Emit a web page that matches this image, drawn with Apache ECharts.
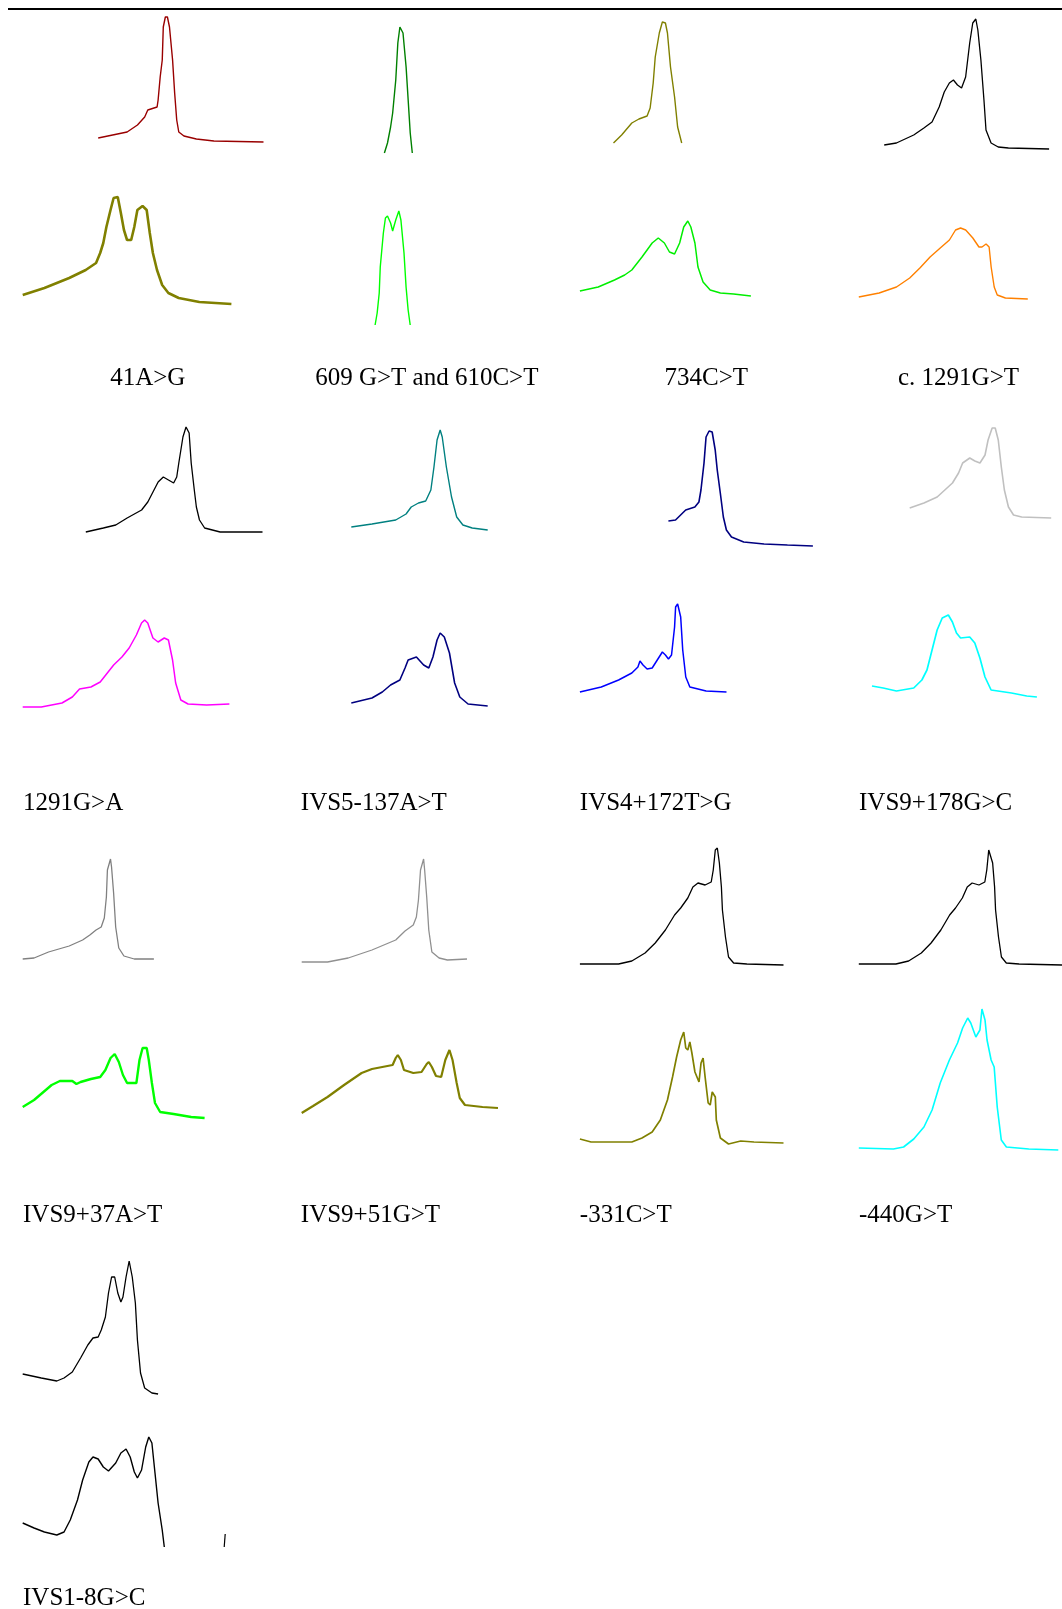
<!DOCTYPE html>
<html>
<head>
<meta charset="utf-8">
<script src="https://cdn.jsdelivr.net/npm/echarts@6/dist/echarts.min.js"></script>
<style>
  html, body { margin: 0; padding: 0; background: #ffffff; }
  #chart { width: 1062px; height: 1609px; }
</style>
</head>
<body>
<div id="chart"></div>
<script>
// Melting-curve profiles: each series is [temperature step, signal] pairs.
// "ref" = upper (reference) trace, "mut" = lower (variant) trace of each panel.

const labels = ['41A>G', '609 G>T and 610C>T', '734C>T', 'c. 1291G>T',
  '1291G>A', 'IVS5-137A>T', 'IVS4+172T>G', 'IVS9+178G>C',
  'IVS9+37A>T', 'IVS9+51G>T', '-331C>T', '-440G>T', 'IVS1-8G>C'];

const ref41AG = [[0,4],[28,10],[38,17],[45,25],[48,32],[57,35],[58,42],[60,65],[62,82],[63,115],[65,125],[67,125],[69,115],[72,82],[74,49],[76,22],[78,10],[83,6],[95,3],[112,1],[160,0]];
const mut41AG = [[0,9],[21,16],[45,26],[61,34],[71,41],[75,51],[78,61],[81,77],[85,94],[88,106],[92,107],[95,91],[98,74],[101,64],[105,64],[108,77],[111,94],[116,98],[120,94],[123,71],[126,51],[130,34],[135,19],[141,11],[151,6],[171,2],[202,0]];

const ref609 = [[0,0],[3,10],[6,26],[8,40],[11,73],[13,110],[15,126],[16,127],[18,120],[21,86],[23,53],[25,20],[27,0]];
const mut609 = [[0,0],[2,12],[4,32],[5,58],[8,92],[10,107],[12,109],[15,102],[17,94],[20,105],[23,114],[25,105],[28,72],[30,38],[32,15],[34,0]];

const ref734 = [[0,0],[8,8],[18,20],[25,24],[33,27],[36,35],[39,60],[41,86],[45,110],[48,121],[51,120],[53,110],[56,76],[60,46],[63,16],[67,0]];
const mut734 = [[0,5],[18,9],[34,16],[44,21],[51,26],[61,39],[71,53],[77,58],[83,53],[88,44],[93,42],[98,53],[102,69],[106,75],[109,69],[113,53],[116,29],[121,14],[128,6],[138,3],[151,2],[168,0]];

const ref1291GT = [[0,4],[12,6],[29,14],[39,21],[47,27],[54,42],[59,57],[64,66],[68,69],[72,64],[76,61],[80,72],[84,106],[87,126],[90,130],[92,119],[95,89],[98,49],[100,19],[105,6],[112,2],[122,1],[162,0]];
const mut1291GT = [[0,2],[20,6],[37,12],[50,21],[60,31],[70,42],[80,51],[89,59],[95,69],[100,71],[105,69],[112,61],[118,52],[121,52],[125,55],[128,52],[130,32],[133,12],[136,4],[144,1],[166,0]];

const ref1291GA = [[0,0],[17,4],[29,7],[40,14],[54,22],[60,30],[65,40],[70,50],[75,55],[80,52],[85,49],[88,55],[90,69],[94,95],[97,105],[100,99],[102,69],[105,42],[107,25],[110,12],[115,4],[130,0],[171,0]];
const mut1291GA = [[0,0],[18,0],[38,4],[48,10],[55,18],[66,20],[75,25],[88,42],[96,50],[103,59],[110,72],[115,84],[118,87],[121,84],[126,69],[131,65],[137,69],[141,67],[145,47],[148,24],[153,7],[160,3],[178,2],[200,3]];

const refIVS5 = [[0,3],[20,6],[43,10],[53,16],[58,23],[65,27],[72,29],[77,40],[80,63],[83,90],[86,100],[88,93],[92,63],[97,33],[102,13],[108,5],[117,2],[132,0]];
const mutIVS5 = [[0,3],[20,8],[30,14],[38,21],[47,26],[52,38],[55,46],[63,49],[70,41],[75,38],[79,49],[83,66],[86,73],[90,69],[95,53],[100,23],[105,9],[113,2],[132,0]];

const refIVS4 = [[0,25],[7,26],[12,31],[17,36],[26,39],[30,44],[32,56],[35,83],[37,109],[40,115],[43,114],[46,96],[48,76],[51,53],[54,29],[57,16],[62,9],[74,4],[94,2],[117,1],[142,0]];
const mutIVS4 = [[0,0],[21,5],[38,12],[51,19],[57,25],[59,31],[62,27],[66,23],[71,24],[76,32],[81,40],[84,37],[87,33],[90,37],[93,65],[94,85],[96,88],[99,75],[101,42],[104,15],[108,5],[124,1],[144,0]];

const refIVS9_178 = [[0,10],[14,15],[27,21],[42,35],[48,45],[52,55],[59,60],[64,57],[69,55],[74,63],[77,78],[81,90],[84,90],[87,78],[90,51],[93,28],[97,11],[102,3],[110,1],[139,0]];
const mutIVS9_178 = [[0,11],[11,9],[24,6],[41,9],[49,17],[54,27],[59,47],[64,67],[69,79],[75,82],[79,75],[83,64],[87,59],[96,60],[101,54],[106,39],[111,20],[117,7],[137,4],[152,1],[162,0]];

const refIVS9_37 = [[0,0],[11,1],[25,7],[45,13],[58,19],[65,24],[71,29],[76,32],[79,41],[81,62],[82,89],[85,100],[86,92],[88,66],[90,32],[93,11],[98,3],[108,0],[127,0]];
const mutIVS9_37 = [[0,11],[11,18],[28,33],[36,37],[48,37],[52,34],[56,36],[66,39],[75,41],[80,48],[85,60],[89,64],[93,56],[97,43],[101,35],[110,35],[113,58],[116,70],[120,70],[122,58],[125,35],[128,15],[133,6],[146,4],[163,1],[176,0]];

const refIVS9_51 = [[0,0],[25,0],[45,4],[68,12],[91,22],[100,31],[108,37],[111,45],[113,62],[115,92],[118,103],[119,92],[121,65],[123,32],[126,10],[133,4],[141,2],[160,3]];
const mutIVS9_51 = [[0,0],[11,7],[25,16],[41,28],[58,40],[68,44],[78,46],[88,48],[91,55],[93,58],[96,53],[99,43],[108,40],[116,41],[121,49],[123,51],[126,46],[130,37],[135,36],[139,53],[143,63],[146,53],[150,30],[153,15],[158,8],[175,6],[190,5]];

const ref331 = [[0,1],[38,1],[51,4],[64,12],[74,22],[84,35],[93,50],[99,57],[106,67],[111,78],[116,82],[123,80],[129,83],[131,95],[133,115],[135,117],[137,102],[139,78],[140,55],[143,28],[146,8],[151,2],[164,1],[200,0]];
const mut331 = [[0,5],[11,2],[31,2],[51,2],[61,6],[71,12],[79,24],[86,44],[91,67],[95,87],[99,104],[102,112],[104,96],[106,94],[108,102],[110,91],[113,72],[117,62],[119,81],[121,86],[123,67],[126,41],[128,39],[130,52],[133,47],[134,24],[138,6],[146,0],[158,3],[171,2],[200,1]];

const ref440 = [[0,1],[38,1],[51,4],[64,12],[74,22],[84,35],[93,50],[99,57],[106,67],[111,78],[116,82],[123,80],[129,83],[131,95],[133,115],[135,117],[137,102],[139,78],[140,55],[143,28],[146,8],[151,2],[164,1],[208,0]];
const mut440 = [[0,2],[34,1],[44,3],[54,11],[64,23],[72,40],[80,67],[89,90],[97,107],[102,122],[107,132],[110,127],[115,113],[119,120],[121,141],[124,130],[126,110],[130,90],[133,83],[136,43],[140,10],[145,3],[167,1],[196,0]];

const refIVS1 = [[0,20],[18,16],[33,13],[40,16],[48,22],[56,36],[63,49],[68,56],[73,57],[76,64],[80,77],[83,101],[86,117],[89,117],[92,101],[95,92],[97,97],[100,117],[103,133],[106,117],[109,91],[111,54],[114,21],[118,6],[125,1],[131,0]];
const mutIVS1 = [[0,24],[11,19],[21,15],[33,12],[40,15],[46,27],[53,47],[58,67],[64,85],[68,90],[73,88],[78,80],[83,76],[90,84],[95,94],[100,98],[104,90],[108,75],[111,69],[115,77],[119,100],[122,110],[125,104],[128,74],[131,44],[135,17],[137,0]];
const strayTrace = [[0,0],[1,13]];

// Layout: one plotting box per trace [left, top, width, height], plus colour and stroke.
const traces = [
  { data: ref41AG, box: [98.2, 17, 165.3, 125], color: '#990000', w: 1.4 },
  { data: mut41AG, box: [22.7, 197, 208.7, 107], color: '#808000', w: 2.6 },
  { data: ref609, box: [384.4, 26, 27.9, 127], color: '#008000', w: 1.4 },
  { data: mut609, box: [375.1, 211, 35.1, 114], color: '#00FF00', w: 1.4 },
  { data: ref734, box: [613.5, 22, 68.2, 121], color: '#808000', w: 1.4 },
  { data: mut734, box: [579.9, 221, 171, 75], color: '#00EE00', w: 1.5 },
  { data: ref1291GT, box: [884.2, 19, 164.9, 130], color: '#000000', w: 1.3 },
  { data: mut1291GT, box: [858.8, 228, 169, 71], color: '#FF8000', w: 1.4 },
  { data: ref1291GA, box: [85.8, 427, 176.7, 105], color: '#000000', w: 1.3 },
  { data: mut1291GA, box: [22.7, 620, 206.7, 87], color: '#FF00FF', w: 1.5 },
  { data: refIVS5, box: [351.3, 430, 136.4, 100], color: '#008080', w: 1.4 },
  { data: mutIVS5, box: [351.3, 633, 136.4, 73], color: '#000080', w: 1.6 },
  { data: refIVS4, box: [668.4, 431, 144.5, 115], color: '#000080', w: 1.6 },
  { data: mutIVS4, box: [579.9, 604, 146.6, 88], color: '#0000FF', w: 1.5 },
  { data: refIVS9_178, box: [909.7, 428, 141.5, 90], color: '#C0C0C0', w: 1.6 },
  { data: mutIVS9_178, box: [872, 615, 164.9, 82], color: '#00FFFF', w: 1.7 },
  { data: refIVS9_37, box: [22.7, 859, 131.2, 100], color: '#808080', w: 1.3 },
  { data: mutIVS9_37, box: [22.7, 1048, 181.9, 70], color: '#00FF00', w: 2.4 },
  { data: refIVS9_51, box: [301.7, 859, 165.3, 103], color: '#909090', w: 1.3 },
  { data: mutIVS9_51, box: [301.7, 1050, 196.3, 63], color: '#808000', w: 2.2 },
  { data: ref331, box: [579.9, 848, 203.6, 117], color: '#000000', w: 1.3 },
  { data: mut331, box: [579.9, 1032, 203.6, 112], color: '#808000', w: 1.7 },
  { data: ref440, box: [858.8, 848, 211.7, 117], color: '#000000', w: 1.3 },
  { data: mut440, box: [858.8, 1009, 199.5, 141], color: '#00FFFF', w: 1.6 },
  { data: refIVS1, box: [22.7, 1261, 135.4, 133], color: '#000000', w: 1.3 },
  { data: mutIVS1, box: [22.7, 1437, 141.6, 110], color: '#000000', w: 1.4 },
  { data: strayTrace, box: [224.2, 1534, 1, 13], color: '#000000', w: 1.2 }
];

// Caption placement: [x, top, align]
const captionPos = [
  [147.8, 366, 'center'], [426.8, 366, 'center'], [706.3, 366, 'center'], [958.5, 366, 'center'],
  [23, 791, 'left'], [300.8, 791, 'left'], [579.8, 791, 'left'], [859, 791, 'left'],
  [23, 1203, 'left'], [300.8, 1203, 'left'], [579.8, 1203, 'left'], [859, 1203, 'left'],
  [23, 1586, 'left']
];

const grids = [], xAxes = [], yAxes = [], series = [];
traces.forEach((t, i) => {
  const xs = t.data.map(p => p[0]);
  const ys = t.data.map(p => p[1]);
  grids.push({ left: t.box[0], top: t.box[1], width: t.box[2], height: t.box[3], show: false });
  xAxes.push({ type: 'value', gridIndex: i, min: Math.min(...xs), max: Math.max(...xs), show: false });
  yAxes.push({ type: 'value', gridIndex: i, min: Math.min(...ys), max: Math.max(...ys), show: false });
  series.push({
    type: 'line', xAxisIndex: i, yAxisIndex: i, data: t.data,
    showSymbol: false, symbol: 'none', clip: false, smooth: false,
    lineStyle: { color: t.color, width: t.w }, itemStyle: { color: t.color },
    silent: true, animation: false
  });
});

const titles = labels.map((txt, i) => {
  const p = captionPos[i];
  return {
    text: txt, left: p[0], top: p[1], textAlign: p[2], padding: 0,
    textStyle: { fontFamily: '"Liberation Serif", "Times New Roman", serif', fontSize: 25, fontWeight: 'normal', color: '#000000' }
  };
});

const chart = echarts.init(document.getElementById('chart'), null, { renderer: 'canvas' });
chart.setOption({
  backgroundColor: '#ffffff',
  animation: false,
  title: titles,
  grid: grids,
  xAxis: xAxes,
  yAxis: yAxes,
  series: series,
  graphic: [{
    type: 'line', silent: true,
    shape: { x1: 8, y1: 9, x2: 1062, y2: 9 },
    style: { stroke: '#000000', lineWidth: 2 }
  }]
});
</script>
</body>
</html>
